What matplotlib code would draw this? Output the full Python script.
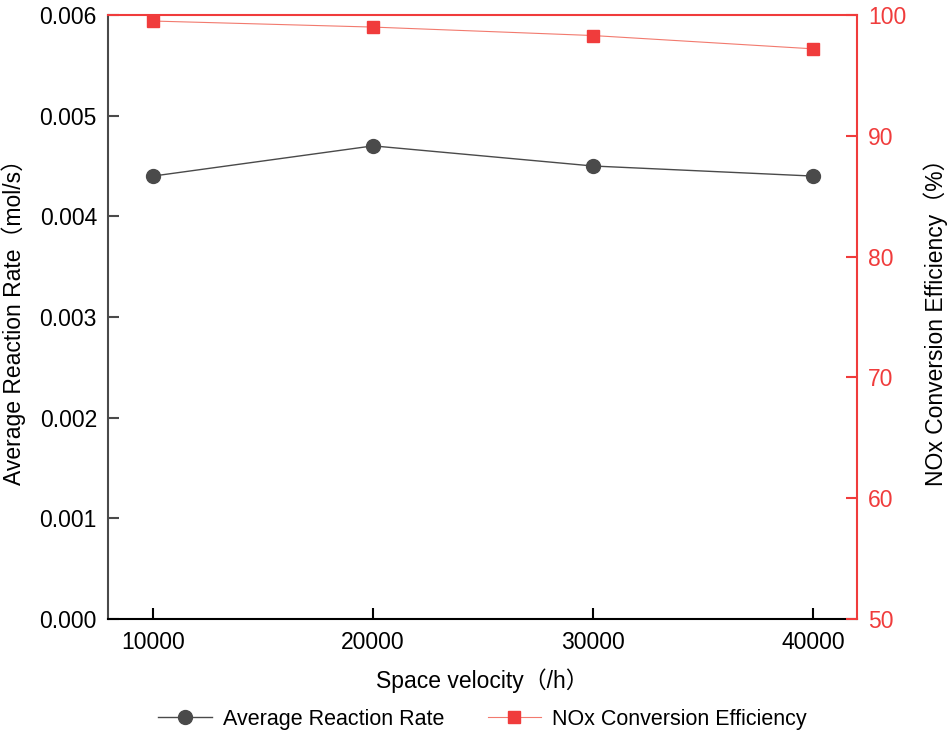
import matplotlib
matplotlib.use("Agg")
import matplotlib.pyplot as plt

plt.rcParams['font.family'] = ['Liberation Sans', 'Noto Sans CJK SC', 'DejaVu Sans']

# data
space_velocity = [10000, 20000, 30000, 40000]
reaction_rate = [0.0044, 0.0047, 0.0045, 0.0044]
nox_efficiency = [99.5, 99.0, 98.3, 97.2]

grey = '#4a4a4a'
red = '#f03c3c'

fig = plt.figure(figsize=(9.5, 7.39), dpi=100)
ax = fig.add_axes([0.1137, 0.1624, 0.7883, 0.8173])
ax2 = ax.twinx()

l1, = ax.plot(space_velocity, reaction_rate, color=grey, lw=1.0, marker='o',
              markersize=10, label='Average Reaction Rate')
l2, = ax2.plot(space_velocity, nox_efficiency, color='#f27a6e', lw=0.8, marker='s',
               markersize=9, markerfacecolor=red, markeredgecolor=red,
               label='NOx Conversion Efficiency')

ax.set_xlim(7950, 42000)
ax.set_ylim(0, 0.006)
ax2.set_ylim(50, 100)
ax.set_xticks(space_velocity)
ax.set_yticks([0, 0.001, 0.002, 0.003, 0.004, 0.005, 0.006])
ax.set_yticklabels(['0.000', '0.001', '0.002', '0.003', '0.004', '0.005', '0.006'])
ax2.set_yticks([50, 60, 70, 80, 90, 100])

ax.tick_params(axis='x', direction='in', length=8, width=1.5, labelsize=16.5, pad=9)
ax.tick_params(axis='y', direction='in', length=8, width=1.5, labelsize=16.5,
               color=grey, pad=8)
ax2.tick_params(axis='y', direction='in', length=8, width=1.5, labelsize=16.5,
                color=red, labelcolor=red, pad=8)

ax.spines['left'].set_color(grey)
ax.spines['left'].set_linewidth(1.5)
ax.spines['bottom'].set_color('black')
ax.spines['bottom'].set_linewidth(1.5)
for s in ['top', 'right']:
    ax2.spines[s].set_color(red)
    ax2.spines[s].set_linewidth(1.5)
ax.spines['top'].set_visible(False)
ax.spines['right'].set_visible(False)
ax2.spines['left'].set_visible(False)
ax2.spines['bottom'].set_visible(False)

ax.set_xlabel('Space velocity（/h）', fontsize=16.5, labelpad=10)
ax.set_ylabel('Average Reaction Rate（mol/s）', fontsize=16.5, labelpad=10)
ax2.set_ylabel('NOx Conversion Efficiency（%）', fontsize=16.5, labelpad=12)

fig.legend([l1, l2], [l1.get_label(), l2.get_label()], loc='center',
           bbox_to_anchor=(0.508, 0.027), ncol=2, frameon=False, fontsize=15.5,
           handlelength=2.5, handletextpad=0.5, columnspacing=2.0)

fig.savefig('out.png', dpi=100)
